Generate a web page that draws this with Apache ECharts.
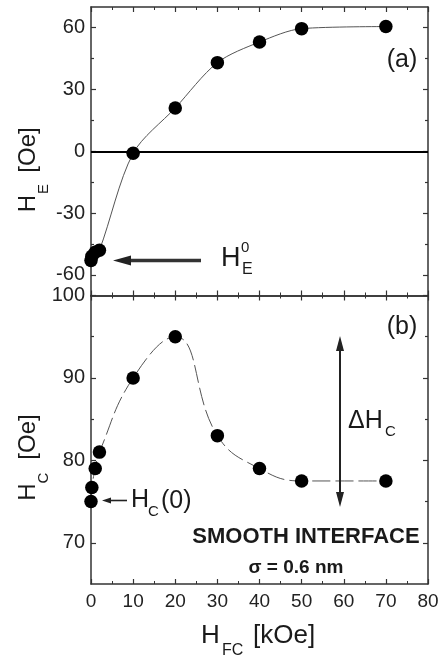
<!DOCTYPE html>
<html><head><meta charset="utf-8">
<script src="https://cdn.jsdelivr.net/npm/echarts@6/dist/echarts.min.js"></script>
<style>html,body{margin:0;padding:0;background:#fff}#c{width:442px;height:659px}</style>
</head><body><div id="c"></div>
<script>
// ---- data ----
const fieldKOe = [0, 0.2, 1, 2, 10, 20, 30, 40, 50, 70];
const exchangeBias = [-53, -51, -49, -48, -1, 21, 43, 53, 59.5, 60.5];
const coercivity = [75, 76.7, 79, 81, 90, 95, 83, 79, 77.5, 77.5];
const heMajorTicks = [-60, -30, 0, 30, 60];
const heMinorTicks = [-45, -15, 15, 45];
const hcMajorTicks = [70, 80, 90, 100];
const hcMinorTicks = [75, 85, 95];

const FONT = '"Liberation Sans", Arial, sans-serif';
const AX = '#333';
const grids = [
  {left: 91, right: 14, top: 7, height: 288.5},
  {left: 91, right: 14, top: 295.5, height: 288.5}
];

function xAx(gi, pos, labels) {
  return {
    type: 'value', gridIndex: gi, position: pos, min: 0, max: 80, interval: 10,
    axisLine: {show: true, onZero: false, lineStyle: {color: AX, width: 1.5}},
    axisTick: {show: true, inside: true, length: 5, lineStyle: {color: AX, width: 1.2}},
    minorTick: {show: true, splitNumber: 2, length: 3, lineStyle: {color: AX, width: 1}},
    axisLabel: {show: labels, margin: 8, color: '#222', fontFamily: FONT, fontSize: 19},
    splitLine: {show: false}, minorSplitLine: {show: false}
  };
}
function yAx(gi, pos, min, max, vals, len, line, labels) {
  return {
    type: 'value', gridIndex: gi, position: pos, min: min, max: max,
    axisLine: {show: line, onZero: false, lineStyle: {color: AX, width: 1.5}},
    axisTick: {show: true, inside: true, length: len, customValues: vals, lineStyle: {color: AX, width: 1.2}},
    axisLabel: {show: labels, customValues: vals, showMaxLabel: true, showMinLabel: true, margin: 6, color: '#222', fontFamily: FONT, fontSize: 20},
    splitLine: {show: false}
  };
}

const xAxis = [xAx(0,'bottom',false), xAx(0,'top',false), xAx(1,'bottom',true), xAx(1,'top',false)];
const yAxis = [
  yAx(0,'left',-70,70,heMajorTicks,5,true,true),
  yAx(0,'left',-70,70,heMinorTicks,3,false,false),
  yAx(0,'right',-70,70,heMajorTicks,5,true,false),
  yAx(0,'right',-70,70,heMinorTicks,3,false,false),
  yAx(1,'left',65,100,hcMajorTicks,5,true,true),
  yAx(1,'left',65,100,hcMinorTicks,3,false,false),
  yAx(1,'right',65,100,hcMajorTicks,5,true,false),
  yAx(1,'right',65,100,hcMinorTicks,3,false,false)
];

const pairsA = fieldKOe.map((x,i)=>[x, exchangeBias[i]]);
const pairsB = fieldKOe.map((x,i)=>[x, coercivity[i]]);

const series = [
  {type:'line', xAxisIndex:0, yAxisIndex:0, data:[], z:1,
   markLine:{silent:true, symbol:['none','none'], label:{show:false},
     lineStyle:{color:'#000', width:2, type:'solid'}, data:[{yAxis:0}]}},
  {type:'line', xAxisIndex:0, yAxisIndex:0, data:pairsA, smooth:0.3,
   symbol:'circle', symbolSize:13.5, itemStyle:{color:'#000'},
   lineStyle:{color:'#555', width:1}, z:2},
  {type:'line', xAxisIndex:2, yAxisIndex:4, data:pairsB, smooth:0.45,
   symbol:'circle', symbolSize:13.5, itemStyle:{color:'#000'},
   lineStyle:{color:'#555', width:1, type:[18,5]}, z:2}
];

function txt(x, y, s, size, o) {
  o = o || {};
  return {type:'text', x:x, y:y, rotation:o.rot||0, z:100,
    style:{text:s, font:(o.bold?'bold ':'')+size+'px '+FONT, fill:'#1a1a1a',
      align:o.align||'left', verticalAlign:'middle', textAlign:o.align||'left', textVerticalAlign:'middle'}};
}
const R = Math.PI/2;
const graphic = [
  txt(402, 60, '(a)', 25, {align:'center'}),
  txt(402, 327, '(b)', 25, {align:'center'}),
  txt(28.5, 203.5, 'H', 24, {rot:R, align:'center'}),
  txt(44, 189, 'E', 15, {rot:R, align:'center'}),
  txt(28.5, 150, '[Oe]', 24, {rot:R, align:'center'}),
  txt(28.5, 492, 'H', 24, {rot:R, align:'center'}),
  txt(44, 478, 'C', 15, {rot:R, align:'center'}),
  txt(28.5, 437, '[Oe]', 24, {rot:R, align:'center'}),
  txt(201, 636, 'H', 26),
  txt(222, 651, 'FC', 16),
  txt(253, 636, '[kOe]', 26),
  txt(221, 259, 'H', 27),
  txt(242, 270, 'E', 16),
  txt(241, 248, '0', 15),
  {type:'polyline', z:100, shape:{points:[[201,260.5],[126,260.5]]}, style:{stroke:'#333', lineWidth:3.5}},
  {type:'polygon', z:100, shape:{points:[[113,260.5],[131,255.5],[131,265.5]]}, style:{fill:'#222'}},
  txt(131, 500, 'H', 25),
  txt(148, 512, 'C', 15),
  txt(161, 501, '(0)', 25),
  {type:'polyline', z:100, shape:{points:[[127,500.5],[108,500.5]]}, style:{stroke:'#222', lineWidth:1.6}},
  {type:'polygon', z:100, shape:{points:[[102,500.5],[111,497.5],[111,503.5]]}, style:{fill:'#222'}},
  {type:'polyline', z:100, shape:{points:[[340,348],[340,495]]}, style:{stroke:'#222', lineWidth:2}},
  {type:'polygon', z:100, shape:{points:[[340,336],[336,351],[344,351]]}, style:{fill:'#222'}},
  {type:'polygon', z:100, shape:{points:[[340,507],[336,492],[344,492]]}, style:{fill:'#222'}},
  txt(348, 421, '\u0394H', 25),
  txt(385, 432, 'C', 15),
  txt(306, 537, 'SMOOTH INTERFACE', 22, {bold:true, align:'center'}),
  txt(296, 568, '\u03c3 = 0.6 nm', 19, {bold:true, align:'center'})
];

const chart = echarts.init(document.getElementById('c'), null, {renderer:'canvas'});
chart.setOption({animation:false, backgroundColor:'#fff', grid:grids, xAxis:xAxis, yAxis:yAxis, series:series, graphic:graphic});
</script>
</body></html>
